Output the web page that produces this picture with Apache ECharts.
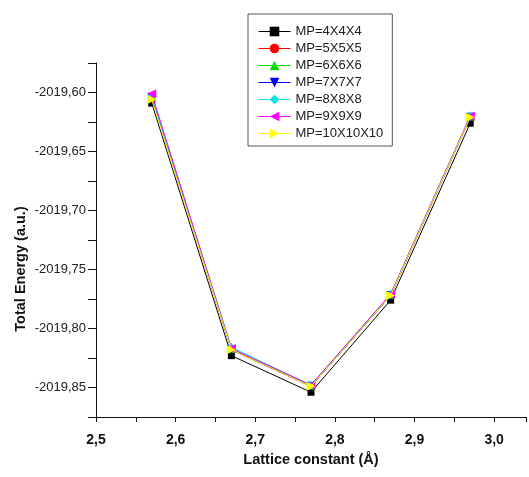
<!DOCTYPE html>
<html><head><meta charset="utf-8">
<script src="https://cdn.jsdelivr.net/npm/echarts@6/dist/echarts.min.js"></script>
<style>html,body{margin:0;padding:0;background:#fff}#c{width:529px;height:477px}</style>
</head><body><div id="c"></div>
<script>
const latticeX = [2.57, 2.67, 2.77, 2.87, 2.97];
const seriesNames = ['MP=4X4X4','MP=5X5X5','MP=6X6X6','MP=7X7X7','MP=8X8X8','MP=9X9X9','MP=10X10X10'];
const mp4  = [-2019.609, -2019.823, -2019.854, -2019.776, -2019.626];
const mp5  = [-2019.604, -2019.818, -2019.849, -2019.772, -2019.621];
const mp6  = [-2019.603, -2019.817, -2019.848, -2019.771, -2019.620];
const mp7  = [-2019.604, -2019.818, -2019.849, -2019.772, -2019.621];
const mp8  = [-2019.603, -2019.816, -2019.848, -2019.771, -2019.620];
const mp9  = [-2019.601, -2019.817, -2019.848, -2019.771, -2019.620];
const mp10 = [-2019.606, -2019.818, -2019.849, -2019.772, -2019.621];
const allValues = [mp4, mp5, mp6, mp7, mp8, mp9, mp10];
const colors = ['#000000','#ff0000','#00dd00','#0000ff','#00e5e5','#ff00ff','#ffff00'];
const symbols = ['rect','circle','triangle','triangle','diamond','triangle','triangle'];
const rotations = [0,0,0,180,0,90,-90];

const font = 'Liberation Sans, Arial, sans-serif';
const chart = echarts.init(document.getElementById('c'));
const series = allValues.map((vals, i) => ({
  name: seriesNames[i],
  type: 'line',
  data: latticeX.map((x, j) => [x, vals[j]]),
  symbol: symbols[i],
  symbolRotate: rotations[i],
  symbolSize: symbols[i] === 'triangle' ? 9 : (symbols[i]==='diamond'?9:7),
  lineStyle: { width: 1, color: colors[i] },
  itemStyle: { color: colors[i] },
  z: 2 + i,
  animation: false
}));

chart.setOption({
  animation: false,
  textStyle: { fontFamily: font },
  grid: { left: 96, right: 0, top: 63, bottom: 60, containLabel: false },
  legend: {
    orient: 'vertical',
    left: 248, top: 14,
    borderColor: '#555', borderWidth: 1,
    padding: [11, 9, 6, 10],
    itemGap: 4,
    itemWidth: 32, itemHeight: 12,
    lineStyle: { width: 1 },
    textStyle: { fontFamily: font, fontSize: 13, color: '#222' },
    data: seriesNames
  },
  xAxis: {
    type: 'value',
    min: 2.5, max: 3.04, interval: 0.05,
    name: 'Lattice constant (Å)',
    nameLocation: 'middle', nameGap: 35,
    nameMoveOverlap: false,
    nameTextStyle: { fontFamily: font, fontSize: 14.5, fontWeight: 'bold', color: '#111' },
    axisLine: { show: true, lineStyle: { color: '#111', width: 1 } },
    axisTick: { show: true, length: 5, lineStyle: { color: '#111' } },
    splitLine: { show: false },
    axisLabel: {
      margin: 16, fontFamily: font, fontSize: 14, fontWeight: 'bold', color: '#111',
      formatter: v => (Math.round(v * 100) % 10 === 0) ? v.toFixed(1).replace('.', ',') : ''
    }
  },
  yAxis: {
    type: 'value',
    min: -2019.875, max: -2019.575, interval: 0.025,
    name: 'Total Energy (a.u.)',
    nameLocation: 'middle', nameGap: 68,
    nameMoveOverlap: false,
    nameTextStyle: { fontFamily: font, fontSize: 14.5, fontWeight: 'bold', color: '#111', padding: [0, 58, 0, 0] },
    axisLine: { show: true, lineStyle: { color: '#111', width: 1 } },
    axisTick: { show: true, length: 8, lineStyle: { color: '#111' } },
    splitLine: { show: false },
    axisLabel: {
      margin: 10, fontFamily: font, fontSize: 13, color: '#222',
      formatter: v => (Math.round(Math.abs(v) * 1000) % 50 === 0) ? v.toFixed(2).replace('.', ',') : ''
    }
  },
  series: series
});
</script>
</body></html>
